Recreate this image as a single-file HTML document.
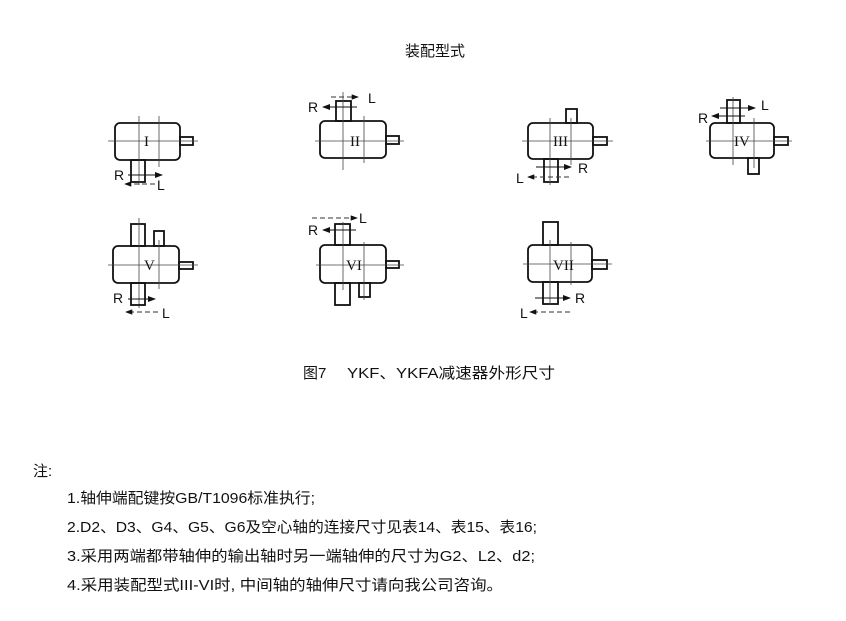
<!DOCTYPE html>
<html><head><meta charset="utf-8"><style>
html,body{margin:0;padding:0;background:#fff;}
svg{display:block;}
text{font-family:"Liberation Sans","Noto Sans CJK SC",sans-serif;fill:#111;}
.b{fill:none;stroke:#111;stroke-width:1.8;}
.c{stroke:#444;stroke-width:0.8;fill:none;}
.d{stroke:#333;stroke-width:0.9;stroke-dasharray:5,3;fill:none;}
.a{stroke:#111;stroke-width:1;fill:none;}
.r{font-family:"Liberation Serif",serif;font-size:15px;}
.lbl{font-size:14px;}
</style></head><body>
<svg width="846" height="621" viewBox="0 0 846 621" xmlns="http://www.w3.org/2000/svg">
<defs><marker id="ar" markerWidth="8" markerHeight="6" refX="7" refY="3" orient="auto"><path d="M0,0 L8,3 L0,6 z" fill="#111"/></marker></defs>
<text x="435" y="56" font-size="15" text-anchor="middle">装配型式</text>

<!-- I -->
<rect class="b" x="115" y="123" width="65" height="37" rx="5"/>
<rect class="b" x="180" y="137" width="13" height="8"/>
<rect class="b" x="131" y="160" width="14" height="22"/>
<line class="c" x1="108" y1="141" x2="198" y2="141"/>
<line class="c" x1="139" y1="116" x2="139" y2="185"/>
<line class="c" x1="159" y1="116" x2="159" y2="167"/>
<text class="r" x="144" y="146">I</text>
<line class="a" x1="128" y1="175" x2="162" y2="175" marker-end="url(#ar)"/>
<text class="lbl" x="114" y="180">R</text>
<line class="d" x1="155" y1="184" x2="125" y2="184" marker-end="url(#ar)"/>
<text class="lbl" x="157" y="190">L</text>

<!-- II -->
<rect class="b" x="320" y="121" width="66" height="37" rx="5"/>
<rect class="b" x="386" y="136" width="13" height="8"/>
<rect class="b" x="336" y="101" width="15" height="20"/>
<line class="c" x1="315" y1="141" x2="404" y2="141"/>
<line class="c" x1="343" y1="92" x2="343" y2="170"/>
<line class="c" x1="364" y1="116" x2="364" y2="163"/>
<text class="r" x="350" y="146">II</text>
<line class="d" x1="331" y1="97" x2="358" y2="97" marker-end="url(#ar)"/>
<text class="lbl" x="368" y="103">L</text>
<line class="a" x1="357" y1="107" x2="323" y2="107" marker-end="url(#ar)"/>
<text class="lbl" x="308" y="112">R</text>

<!-- III -->
<rect class="b" x="528" y="123" width="65" height="36" rx="5"/>
<rect class="b" x="593" y="137" width="14" height="8"/>
<rect class="b" x="566" y="109" width="11" height="14"/>
<rect class="b" x="544" y="159" width="14" height="23"/>
<line class="c" x1="522" y1="141" x2="613" y2="141"/>
<line class="c" x1="550" y1="118" x2="550" y2="185"/>
<line class="c" x1="571" y1="118" x2="571" y2="165"/>
<text class="r" x="553" y="146">III</text>
<line class="a" x1="536" y1="167" x2="571" y2="167" marker-end="url(#ar)"/>
<text class="lbl" x="578" y="173">R</text>
<line class="d" x1="569" y1="177" x2="528" y2="177" marker-end="url(#ar)"/>
<text class="lbl" x="516" y="183">L</text>

<!-- IV -->
<rect class="b" x="710" y="123" width="64" height="35" rx="5"/>
<rect class="b" x="774" y="137" width="14" height="8"/>
<rect class="b" x="727" y="100" width="13" height="23"/>
<rect class="b" x="748" y="158" width="11" height="16"/>
<line class="c" x1="706" y1="141" x2="792" y2="141"/>
<line class="c" x1="733" y1="97" x2="733" y2="165"/>
<line class="c" x1="754" y1="118" x2="754" y2="168"/>
<text class="r" x="734" y="146">IV</text>
<line class="a" x1="720" y1="108" x2="755" y2="108" marker-end="url(#ar)"/>
<text class="lbl" x="761" y="110">L</text>
<line class="a" x1="745" y1="116" x2="712" y2="116" marker-end="url(#ar)"/>
<text class="lbl" x="698" y="123">R</text>

<!-- V -->
<rect class="b" x="113" y="246" width="66" height="37" rx="5"/>
<rect class="b" x="179" y="262" width="14" height="7"/>
<rect class="b" x="131" y="224" width="14" height="22"/>
<rect class="b" x="154" y="231" width="10" height="15"/>
<line class="c" x1="108" y1="265" x2="198" y2="265"/>
<line class="c" x1="139" y1="218" x2="139" y2="308"/>
<line class="c" x1="159" y1="240" x2="159" y2="289"/>
<rect class="b" x="131" y="283" width="14" height="22"/>
<text class="r" x="144" y="270">V</text>
<line class="a" x1="128" y1="299" x2="155" y2="299" marker-end="url(#ar)"/>
<text class="lbl" x="113" y="303">R</text>
<line class="d" x1="158" y1="312" x2="126" y2="312" marker-end="url(#ar)"/>
<text class="lbl" x="162" y="318">L</text>

<!-- VI -->
<rect class="b" x="320" y="245" width="66" height="38" rx="5"/>
<rect class="b" x="386" y="261" width="13" height="7"/>
<rect class="b" x="335" y="224" width="15" height="21"/>
<rect class="b" x="335" y="283" width="15" height="22"/>
<rect class="b" x="359" y="283" width="11" height="14"/>
<line class="c" x1="316" y1="265" x2="404" y2="265"/>
<line class="c" x1="343" y1="222" x2="343" y2="290"/>
<line class="c" x1="364" y1="242" x2="364" y2="300"/>
<text class="r" x="346" y="270">VI</text>
<line class="d" x1="312" y1="218" x2="357" y2="218" marker-end="url(#ar)"/>
<text class="lbl" x="359" y="223">L</text>
<line class="a" x1="356" y1="230" x2="323" y2="230" marker-end="url(#ar)"/>
<text class="lbl" x="308" y="235">R</text>

<!-- VII -->
<rect class="b" x="528" y="245" width="64" height="37" rx="5"/>
<rect class="b" x="592" y="260" width="15" height="9"/>
<rect class="b" x="543" y="222" width="15" height="23"/>
<rect class="b" x="543" y="282" width="15" height="22"/>
<line class="c" x1="523" y1="264" x2="612" y2="264"/>
<line class="c" x1="550" y1="240" x2="550" y2="305"/>
<line class="c" x1="571" y1="242" x2="571" y2="285"/>
<text class="r" x="553" y="270">VII</text>
<line class="a" x1="535" y1="298" x2="570" y2="298" marker-end="url(#ar)"/>
<text class="lbl" x="575" y="303">R</text>
<line class="d" x1="570" y1="312" x2="530" y2="312" marker-end="url(#ar)"/>
<text class="lbl" x="520" y="318">L</text>

<text x="303" y="378" font-size="15">图7</text>
<text x="347" y="378" font-size="15" textLength="208" lengthAdjust="spacingAndGlyphs">YKF、YKFA减速器外形尺寸</text>

<text x="33" y="476" font-size="15">注:</text>
<text x="67" y="503" font-size="15" textLength="248" lengthAdjust="spacingAndGlyphs">1.轴伸端配键按GB/T1096标准执行;</text>
<text x="67" y="532" font-size="15" textLength="470" lengthAdjust="spacingAndGlyphs">2.D2、D3、G4、G5、G6及空心轴的连接尺寸见表14、表15、表16;</text>
<text x="67" y="561" font-size="15" textLength="468" lengthAdjust="spacingAndGlyphs">3.采用两端都带轴伸的输出轴时另一端轴伸的尺寸为G2、L2、d2;</text>
<text x="67" y="590" font-size="15" textLength="436" lengthAdjust="spacingAndGlyphs">4.采用装配型式III-VI时, 中间轴的轴伸尺寸请向我公司咨询。</text>
</svg>
</body></html>
